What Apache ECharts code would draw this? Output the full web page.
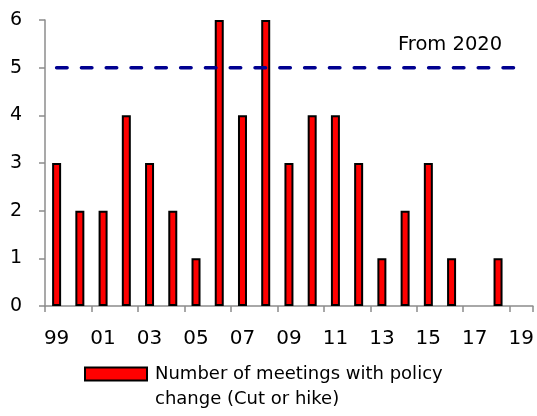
<!DOCTYPE html>
<html>
<head>
<meta charset="utf-8">
<script src="https://cdn.jsdelivr.net/npm/echarts@6/dist/echarts.min.js"></script>
<style>
html, body { margin: 0; padding: 0; background: #fff; }
#chart { width: 537px; height: 416px; }
</style>
</head>
<body>
<div id="chart"></div>
<script>
// years 1999 - 2019, shown as two digits
var years = ['99', '00', '01', '02', '03', '04', '05', '06', '07', '08', '09',
    '10', '11', '12', '13', '14', '15', '16', '17', '18', '19'];
// number of meetings with a policy change (cut or hike)
var meetings = [3, 2, 2, 4, 3, 2, 1, 6, 4, 6, 3, 4, 4, 3, 1, 2, 3, 1, 0, 1, null];
// meetings per year from 2020
var from2020 = [5, 5, 5, 5, 5, 5, 5, 5, 5, 5, 5, 5, 5, 5, 5, 5, 5, 5, 5, 5, 5];
var yTicks = [0, 1, 2, 3, 4, 5, 6];
var legendLines = ['Number of meetings with policy', 'change (Cut or hike)'];

var fontName = 'DejaVu Sans';
var axisGray = '#8c8c8c';

// zero years have no bar at all in the original
var barData = meetings.map(function (v) {
    return v === 0 ? '-' : v;
});

var myChart = echarts.init(document.getElementById('chart'));
var option = {
    animation: false,
    grid: {
        left: 45,
        right: 4,
        top: 20,
        bottom: 110
    },
    legend: {
        data: [legendLines.join('\n')],
        left: 79,
        top: 358,
        icon: 'rect',
        itemWidth: 62,
        itemHeight: 13,
        itemStyle: {
            color: '#ff0000',
            borderColor: '#000',
            borderWidth: 2
        },
        formatter: function (name) {
            return name.split('\n')[0];
        },
        textStyle: {
            fontFamily: fontName,
            fontSize: 18,
            lineHeight: 22,
            padding: [0, 0, 0, 3],
            color: '#000'
        }
    },
    graphic: [{
        type: 'text',
        left: 398,
        top: 35,
        style: {
            text: 'From 2020',
            fontFamily: fontName,
            fontSize: 19.5,
            fill: '#000'
        }
    }, {
        type: 'text',
        left: 155,
        top: 390,
        style: {
            text: legendLines[1],
            fontFamily: fontName,
            fontSize: 18,
            fill: '#000'
        }
    }],
    xAxis: {
        type: 'category',
        data: years,
        axisLine: { lineStyle: { color: axisGray, width: 1.5 } },
        axisTick: { show: true, interval: 1, length: 6, lineStyle: { color: axisGray, width: 1.5 } },
        axisLabel: {
            interval: 1,
            margin: 23,
            fontFamily: fontName,
            fontSize: 20,
            color: '#000'
        }
    },
    yAxis: {
        type: 'value',
        min: yTicks[0],
        max: yTicks[yTicks.length - 1],
        interval: 1,
        splitLine: { show: false },
        axisLine: { show: true, lineStyle: { color: axisGray, width: 1.5 } },
        axisTick: { show: true, length: 6, lineStyle: { color: axisGray, width: 1.5 } },
        axisLabel: {
            margin: 23,
            fontFamily: fontName,
            fontSize: 19,
            color: '#000'
        }
    },
    series: [{
        name: legendLines.join('\n'),
        type: 'bar',
        data: barData,
        barWidth: 9,
        itemStyle: {
            color: '#ff0000',
            borderColor: '#000',
            borderWidth: 2
        }
    }, {
        name: 'From 2020',
        type: 'line',
        data: from2020,
        symbol: 'none',
        lineStyle: {
            color: '#000090',
            width: 3.5,
            cap: 'round',
            type: [10.5, 14.3]
        }
    }]
};
myChart.setOption(option);
</script>
</body>
</html>
